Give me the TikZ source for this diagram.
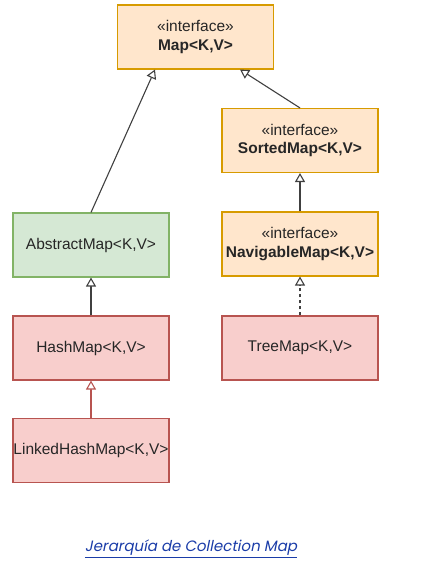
\documentclass[tikz,border=0pt]{standalone}
\usepackage{fontspec}
\setmainfont{Liberation Sans}
\newfontfamily\capfont[FakeSlant=0.2]{Poppins}
\usetikzlibrary{arrows.meta}
\definecolor{ifill}{HTML}{FFE6CC}
\definecolor{idraw}{HTML}{D79B00}
\definecolor{gfill}{HTML}{D5E8D4}
\definecolor{gdraw}{HTML}{82B366}
\definecolor{rfill}{HTML}{F8CECC}
\definecolor{rdraw}{HTML}{B85450}
\definecolor{txt}{HTML}{262626}
\definecolor{capblue}{HTML}{1A3CA8}

\begin{document}
\begin{tikzpicture}[x=1pt, y=-1pt,
    box/.style={rectangle, minimum width=156pt, minimum height=64pt, inner sep=0pt,
        align=center, text=txt, font=\fontsize{15.5}{18.5}\selectfont, line width=1.1pt},
    iface/.style={box, fill=ifill, draw=idraw},
    absbox/.style={box, fill=gfill, draw=gdraw},
    impl/.style={box, fill=rfill, draw=rdraw},
    inherit/.style={-{Triangle[open, length=9pt, width=10pt, fill=white]}, line width=1.1pt, draw=black!75}]
        \useasboundingbox (0,0) rectangle (447,565);
        % Interfaces
        \node[iface] (map) at (195.5,37) {«interface»\\\textbf{Map<K,V>}};
        \node[iface] (sorted) at (300,140.5) {«interface»\\\textbf{SortedMap<K,V>}};
        \node[iface] (navig) at (300,244) {«interface»\\\textbf{NavigableMap<K,V>}};
        % Classes
        \node[absbox] (abstract) at (91,245) {AbstractMap<K,V>};
        \node[impl] (hash) at (91,348) {HashMap<K,V>};
        \node[impl] (linked) at (91,450.5) {LinkedHashMap<K,V>};
        \node[impl] (tree) at (300,348) {TreeMap<K,V>};
        % Inheritance arrows
        \draw[inherit] (abstract.north) -- (map.south west -| 155,0);
        \draw[inherit] (sorted.north) -- (map.south east -| 240,0);
        \draw[inherit] (navig) -- (sorted);
        \draw[inherit, dashed] (tree) -- (navig);
        \draw[inherit] (hash) -- (abstract);
        \draw[inherit, draw=rdraw] (linked) -- (hash);
        % Caption
        \node[capblue, font=\capfont\fontsize{15}{18}\selectfont] (caption) at (191,549) {\underline{Jerarquía de Collection Map}};
    \end{tikzpicture}
\end{document}
